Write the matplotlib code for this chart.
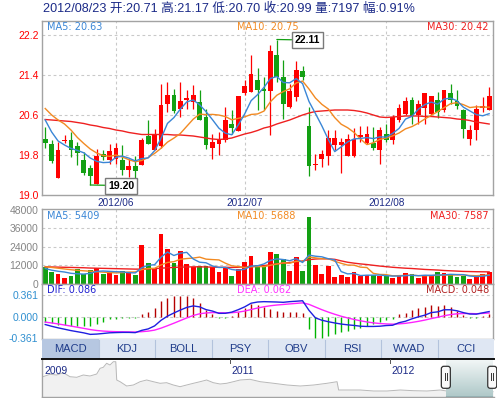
import numpy as np
import pandas as pd
import matplotlib
matplotlib.use("Agg")
import matplotlib.pyplot as plt
from matplotlib.patches import Rectangle, FancyBboxPatch

# ---------------- data ----------------
header = "2012/08/23 开:20.71 高:21.17 低:20.70 收:20.99 量:7197 幅:0.91%"

opens = [20.12, 20.03, 19.35, 20.09, 20.11, 19.99, 19.71, 19.53, 19.23, 19.83,
         19.70, 19.72, 19.70, 19.51, 19.58, 19.60, 20.18, 19.90, 19.98, 20.83,
         21.00, 20.73, 20.90, 20.87, 20.87, 20.55, 19.95, 20.02, 20.10, 20.43,
         20.28, 21.05, 21.07, 21.31, 21.12, 21.09, 21.80, 21.37, 20.77, 20.97,
         21.48, 20.38, 19.60, 19.72, 19.78, 20.01, 20.00, 19.79, 19.79, 20.17,
         20.05, 20.05, 19.90, 20.23, 20.10, 20.50, 20.63, 20.90, 20.60, 20.75,
         20.63, 20.90, 20.71, 21.05, 20.89, 20.69, 20.13, 20.30, 20.75, 20.71]
highs = [20.37, 20.10, 20.07, 20.20, 20.27, 20.07, 19.87, 19.60, 19.93, 19.90,
         20.03, 20.05, 20.00, 19.73, 19.78, 20.15, 20.50, 20.33, 21.22, 21.27,
         21.13, 21.27, 21.10, 21.20, 21.10, 20.73, 20.23, 20.27, 20.77, 20.70,
         20.98, 21.30, 21.80, 21.55, 21.37, 22.00, 22.11, 21.70, 21.23, 21.69,
         21.58, 20.77, 19.83, 19.90, 20.30, 20.30, 20.15, 20.23, 20.35, 20.38,
         20.38, 20.37, 20.37, 20.43, 20.60, 20.83, 20.97, 20.97, 20.91, 21.03,
         20.98, 21.07, 21.10, 21.22, 21.10, 20.73, 20.40, 20.80, 20.97, 21.17]
lows = [19.95, 19.65, 19.35, 20.05, 19.77, 19.60, 19.40, 19.20, 19.23, 19.71,
        19.63, 19.62, 19.40, 19.37, 19.35, 19.60, 20.02, 19.90, 19.95, 20.67,
        20.65, 20.57, 20.73, 20.73, 20.50, 19.93, 19.72, 19.81, 20.07, 20.23,
        20.28, 21.00, 21.07, 20.71, 20.70, 20.20, 21.27, 20.52, 20.75, 20.88,
        21.30, 19.38, 19.51, 19.57, 19.60, 19.90, 19.45, 19.79, 19.77, 20.07,
        20.02, 19.90, 19.63, 20.07, 20.03, 20.47, 20.60, 20.43, 20.43, 20.43,
        20.60, 20.55, 20.67, 20.83, 20.73, 20.15, 20.00, 20.10, 20.67, 20.70]
closes = [20.05, 19.69, 19.91, 20.11, 19.90, 19.85, 19.45, 19.39, 19.78, 19.77,
          19.88, 19.95, 19.51, 19.58, 19.49, 20.11, 20.02, 20.23, 20.80, 21.00,
          20.69, 20.87, 20.95, 21.00, 20.51, 20.00, 20.07, 20.10, 20.50, 20.35,
          20.98, 21.17, 21.43, 21.10, 21.08, 21.87, 21.37, 20.83, 21.07, 21.50,
          21.37, 19.58, 19.63, 19.83, 20.15, 20.15, 20.05, 20.13, 20.13, 20.20,
          20.23, 19.95, 20.30, 20.11, 20.57, 20.73, 20.88, 20.58, 20.82, 21.03,
          20.98, 20.67, 21.10, 20.90, 20.78, 20.33, 20.30, 20.73, 20.78, 20.99]
volumes = [10900, 7600, 6100, 3900, 4800, 9400, 6500, 8700, 10200, 6100,
           8200, 5400, 8000, 7600, 5400, 25000, 13500, 9800, 32300, 22300,
           13600, 21100, 12500, 10700, 11700, 11700, 10700, 7600, 11000, 4800,
           9200, 14100, 17900, 11900, 10900, 20700, 19100, 15700, 8100, 17600,
           8100, 43400, 12000, 6100, 11300, 4200, 5400, 4400, 7400, 4600,
           5400, 5400, 5000, 5000, 3500, 5400, 6800, 6200, 3700, 4900,
           5200, 7800, 6600, 5600, 4000, 5000, 3200, 5000, 6500, 7197]

# moving-average values before enough history is visible
ma5_head = [20.50, 20.26, 20.08, 20.00]
ma10_head = [20.73, 20.60, 20.50, 20.42, 20.30, 20.15, 20.03, 19.92, 19.84]
ma30 = [20.51, 20.50, 20.49, 20.48, 20.47, 20.45, 20.43, 20.40, 20.38, 20.35,
        20.33, 20.30, 20.28, 20.25, 20.23, 20.21, 20.21, 20.21, 20.21, 20.21,
        20.20, 20.20, 20.19, 20.18, 20.16, 20.14, 20.12, 20.11, 20.12, 20.14,
        20.18, 20.22, 20.25, 20.29, 20.34, 20.37, 20.42, 20.46, 20.50, 20.55,
        20.60, 20.64, 20.67, 20.68, 20.69, 20.70, 20.70, 20.70, 20.69, 20.67,
        20.64, 20.60, 20.56, 20.55, 20.56, 20.57, 20.58, 20.58, 20.58, 20.57,
        20.57, 20.56, 20.55, 20.54, 20.52, 20.51, 20.49, 20.46, 20.44, 20.42]
vol_ma5_head = [9800, 8700, 8000, 7500]
vol_ma10_head = [10900, 10500, 10000, 9500, 9000, 8600, 8300, 8000, 7700]
vol_ma30 = [10900, 10800, 10700, 10600, 10500, 10400, 10300, 10100, 10000, 9900,
            9800, 9700, 9600, 9500, 9400, 9400, 9500, 9700, 10000, 10300,
            10500, 10700, 10800, 10900, 10900, 10800, 10700, 10600, 10600, 10500,
            10600, 10800, 11000, 11300, 11700, 12300, 12800, 13300, 13700, 14200,
            14700, 15600, 16000, 16200, 16100, 15800, 14800, 13900, 13300, 12800,
            12400, 11900, 11400, 11000, 10600, 10300, 10000, 9800, 9500, 9200,
            9000, 8800, 8500, 8300, 8100, 7900, 7800, 7700, 7650, 7587]

dif = [-0.130, -0.159, -0.185, -0.208, -0.231, -0.250, -0.269, -0.294, -0.289, -0.279,
       -0.268, -0.264, -0.261, -0.261, -0.265, -0.227, -0.203, -0.153, -0.060, 0.010,
       0.062, 0.111, 0.155, 0.180, 0.164, 0.118, 0.094, 0.056, 0.057, 0.077,
       0.117, 0.164, 0.225, 0.245, 0.251, 0.248, 0.245, 0.240, 0.251, 0.258,
       0.266, 0.106, -0.019, -0.058, -0.083, -0.104, -0.122, -0.135, -0.145, -0.158,
       -0.162, -0.162, -0.158, -0.147, -0.142, -0.099, -0.075, -0.035, -0.002, 0.026,
       0.069, 0.081, 0.116, 0.116, 0.099, 0.068, 0.045, 0.043, 0.065, 0.086]
dea = [-0.090, -0.104, -0.120, -0.138, -0.156, -0.175, -0.194, -0.214, -0.229, -0.239,
       -0.245, -0.249, -0.251, -0.253, -0.255, -0.249, -0.240, -0.223, -0.190, -0.150,
       -0.108, -0.064, -0.020, 0.020, 0.049, 0.063, 0.069, 0.066, 0.064, 0.067,
       0.077, 0.094, 0.120, 0.145, 0.166, 0.183, 0.195, 0.204, 0.213, 0.222,
       0.231, 0.206, 0.161, 0.117, 0.077, 0.041, 0.008, -0.020, -0.045, -0.068,
       -0.087, -0.102, -0.113, -0.120, -0.124, -0.119, -0.110, -0.095, -0.077, -0.056,
       -0.031, -0.009, 0.016, 0.036, 0.049, 0.053, 0.053, 0.050, 0.055, 0.062]

price_legend = ["MA5: 20.63", "MA10: 20.75", "MA30: 20.42"]
vol_legend = ["MA5: 5409", "MA10: 5688", "MA30: 7587"]
macd_legend = ["DIF: 0.086", "DEA: 0.062", "MACD: 0.048"]

month_idx = [11, 31, 53]
month_labels = ["2012/06", "2012/07", "2012/08"]
price_ticks = [19.0, 19.8, 20.6, 21.4, 22.2]
price_tick_labels = ["19.0", "19.8", "20.6", "21.4", "22.2"]
vol_ticks = [0, 12000, 24000, 36000, 48000]
vol_tick_labels = ["0", "12000", "24000", "36000", "48000"]
macd_ticks = [-0.361, 0.0, 0.361]
macd_tick_labels = ["-0.361", "0.000", "0.361"]

tabs = ["MACD", "KDJ", "BOLL", "PSY", "OBV", "RSI", "WVAD", "CCI"]
active_tab = "MACD"

nav_years = [2009.831, 2009.875, 2009.917, 2009.958, 2010.000, 2010.042, 2010.083,
             2010.125, 2010.167, 2010.188, 2010.208, 2010.229, 2010.250, 2010.271,
             2010.286, 2010.292, 2010.313, 2010.354, 2010.396, 2010.438, 2010.479,
             2010.521, 2010.563, 2010.604, 2010.646, 2010.688, 2010.729, 2010.771,
             2010.813, 2010.854, 2010.896, 2010.938, 2010.979, 2011.021, 2011.063,
             2011.125, 2011.189, 2011.273, 2011.356, 2011.439, 2011.523, 2011.606,
             2011.669, 2011.679, 2011.731, 2011.814, 2011.898, 2011.981, 2012.064,
             2012.148, 2012.231, 2012.314, 2012.375, 2012.500, 2012.644]
nav_close = [28.30, 29.50, 29.15, 30.30, 28.30, 28.00, 29.15,
             28.65, 29.65, 32.50, 33.00, 35.00, 34.15, 35.80,
             35.80, 26.65, 25.80, 23.65, 24.15, 25.80, 26.65,
             25.80, 25.00, 25.30, 24.15, 23.30, 24.15, 25.00,
             25.80, 26.65, 25.30, 24.65, 25.00, 25.80, 26.65,
             27.00, 25.80, 25.00, 24.15, 23.65, 24.15, 25.00,
             25.80, 21.65, 21.65, 21.65, 21.15, 21.15, 21.65,
             21.30, 21.15, 21.65, 20.90, 20.80, 20.80]
nav_label_years = [2009.83, 2011.0, 2012.0]
nav_labels = ["2009", "2011", "2012"]
sel_range = [2012.349, 2012.639]

max_idx, max_label = 36, "22.11"
min_idx, min_label = 7, "19.20"

# ---------------- derived series ----------------
o = np.array(opens); h = np.array(highs); l = np.array(lows); c = np.array(closes)
v = np.array(volumes, dtype=float)
n = len(c)
x = np.arange(n)

ma5 = pd.Series(c).rolling(5).mean().to_numpy(); ma5[:4] = ma5_head
ma10 = pd.Series(c).rolling(10).mean().to_numpy(); ma10[:9] = ma10_head
vma5 = pd.Series(v).rolling(5).mean().to_numpy(); vma5[:4] = vol_ma5_head
vma10 = pd.Series(v).rolling(10).mean().to_numpy(); vma10[:9] = vol_ma10_head
hist = 2 * (np.array(dif) - np.array(dea))

# ---------------- style ----------------
plt.rcParams['font.family'] = ['Liberation Sans', 'Noto Sans CJK SC', 'DejaVu Sans']
RED = '#ff0000'
GREEN = '#13a013'
C_MA5 = '#3a86d6'
C_MA10 = '#f28a22'
C_MA30 = '#ef2020'
GRID = '#c9c9c9'
FRAME = '#a3a3a3'
NAVY = '#1c2a86'

W, H = 497, 398
fig = plt.figure(figsize=(W / 100, H / 100), dpi=100)


def rect(x0, y0, x1, y1):
    return [x0 / W, 1 - y1 / H, (x1 - x0) / W, (y1 - y0) / H]


ax_p = fig.add_axes(rect(42, 21, 493, 195))
ax_v = fig.add_axes(rect(42, 209, 493, 283.5))
ax_m = fig.add_axes(rect(42, 284, 493, 339))
ax_t = fig.add_axes(rect(42, 339, 494, 359))
ax_n = fig.add_axes(rect(42, 359, 494, 397))

XL = (-0.5, n - 0.4)
up = c >= o
cols = np.where(up, RED, GREEN)
bw = 0.74


def frame(ax):
    for s in ax.spines.values():
        s.set_color(FRAME)
        s.set_linewidth(1.0)
    ax.tick_params(axis='both', length=0)
    ax.set_xticks([])


# ---- price panel ----
ax = ax_p
frame(ax)
ax.set_xlim(*XL)
ax.set_ylim(19.0, 22.48)
for yv in price_ticks[1:]:
    ax.axhline(yv, color=GRID, lw=0.8, ls=(0, (2.5, 2.5)), zorder=0)
for mi in month_idx:
    ax.axvline(mi, color=GRID, lw=0.8, ls=(0, (2.5, 2.5)), zorder=0)
ax.vlines(x, l, h, colors=cols, lw=0.9, zorder=2)
body_lo = np.minimum(o, c)
body_h = np.maximum(np.abs(c - o), 0.02)
ax.bar(x, body_h, bottom=body_lo, width=bw, color=cols, linewidth=0, zorder=3)
ax.plot(x, ma30, color=C_MA30, lw=1.0, zorder=4)
ax.plot(x, ma10, color=C_MA10, lw=1.0, zorder=4)
ax.plot(x, ma5, color=C_MA5, lw=1.0, zorder=4)
ax.set_yticks(price_ticks)
ax.set_yticklabels(price_tick_labels, color='#ff0000', fontsize=7.5)
ax.tick_params(axis='y', pad=2.5)
for mi, lab in zip(month_idx, month_labels):
    ax.text(mi, -0.047, lab, transform=ax.get_xaxis_transform(), ha='center', va='center',
            fontsize=7.2, color=NAVY, clip_on=False)
fam = ['DejaVu Sans']
ax.text(0.011, 0.965, price_legend[0], transform=ax.transAxes, color=C_MA5, fontsize=7,
        va='center', ha='left', family=fam)
ax.text(0.432, 0.965, price_legend[1], transform=ax.transAxes, color=C_MA10, fontsize=7,
        va='center', ha='left', family=fam)
ax.text(0.991, 0.965, price_legend[2], transform=ax.transAxes, color=C_MA30, fontsize=7,
        va='center', ha='right', family=fam)

# high / low markers
for idx, lab, val in [(max_idx, max_label, h[max_idx]), (min_idx, min_label, l[min_idx])]:
    ax.annotate(lab, xy=(idx, val), xytext=(22.3, -0.4), textcoords='offset points',
                ha='center', va='center', fontsize=7.6, fontweight='bold', color='black',
                bbox=dict(boxstyle='square,pad=0.28', fc='white', ec='#7a7a7a', lw=1.0),
                arrowprops=dict(arrowstyle='-', color=cols[idx], lw=0.9,
                                shrinkA=0, shrinkB=0),
                zorder=6, annotation_clip=False)

# ---- volume panel ----
ax = ax_v
frame(ax)
ax.set_xlim(*XL)
ax.set_ylim(0, 48700)
for yv in vol_ticks[1:4]:
    ax.axhline(yv, color=GRID, lw=0.8, ls=(0, (2.5, 2.5)), zorder=0)
for mi in month_idx:
    ax.axvline(mi, color=GRID, lw=0.8, ls=(0, (2.5, 2.5)), zorder=0)
ax.bar(x, v, width=bw, color=cols, linewidth=0, zorder=2)
ax.plot(x, vol_ma30, color=C_MA30, lw=1.0, zorder=4)
ax.plot(x, vma10, color=C_MA10, lw=1.0, zorder=4)
ax.plot(x, vma5, color=C_MA5, lw=1.0, zorder=4)
ax.set_yticks(vol_ticks)
ax.set_yticklabels(vol_tick_labels, color='#858585', fontsize=7.5)
ax.tick_params(axis='y', pad=2.5)
ax.text(0.011, 0.905, vol_legend[0], transform=ax.transAxes, color=C_MA5, fontsize=7,
        va='center', ha='left', family=fam)
ax.text(0.432, 0.905, vol_legend[1], transform=ax.transAxes, color=C_MA10, fontsize=7,
        va='center', ha='left', family=fam)
ax.text(0.991, 0.905, vol_legend[2], transform=ax.transAxes, color=C_MA30, fontsize=7,
        va='center', ha='right', family=fam)

# ---- MACD panel ----
ax = ax_m
frame(ax)
ax.set_xlim(*XL)
ax.set_ylim(-0.371, 0.545)
ax.axhline(0.361, color=GRID, lw=0.8, ls=(0, (2.5, 2.5)), zorder=0)
ax.axhline(0.0, color=GRID, lw=0.8, ls=(0, (2.5, 2.5)), zorder=0)
hcols = np.where(hist >= 0, '#b50000', '#00b400')
ax.vlines(x, 0, hist, colors=hcols, lw=1.0, zorder=2)
ax.plot(x, dea, color='#ff22ff', lw=1.0, zorder=3)
ax.plot(x, dif, color='#1f1fe0', lw=1.0, zorder=4)
ax.set_yticks(macd_ticks)
ax.set_yticklabels(macd_tick_labels, color='#2f8fd0', fontsize=7.5)
ax.tick_params(axis='y', pad=2.5)
ax.text(0.011, 0.885, macd_legend[0], transform=ax.transAxes, color='#2020d0', fontsize=7,
        va='center', ha='left', family=fam)
ax.text(0.432, 0.885, macd_legend[1], transform=ax.transAxes, color='#ff33ff', fontsize=7,
        va='center', ha='left', family=fam)
ax.text(0.991, 0.885, macd_legend[2], transform=ax.transAxes, color='#b22222', fontsize=7,
        va='center', ha='right', family=fam)

# ---- tabs ----
ax = ax_t
ax.set_xlim(0, len(tabs))
ax.set_ylim(0, 1)
ax.axis('off')
for i, t in enumerate(tabs):
    fc = '#b6c7e1' if t == active_tab else '#dfe7f3'
    ax.add_patch(Rectangle((i, 0), 1, 1, fc=fc, ec='none'))
    if i > 0:
        ax.plot([i, i], [0.05, 0.95], color='#b3c3dc', lw=0.8)
    ax.text(i + 0.5, 0.5, t, ha='center', va='center', fontsize=8, color='#1f3c8a')

# ---- navigator ----
ax = ax_n
ax.set_xlim(2009.825, 2012.65)
ax.set_ylim(18.15, 37.15)
ax.set_xticks([]); ax.set_yticks([])
for k, s in ax.spines.items():
    s.set_color(FRAME); s.set_linewidth(1.0)
ax.spines['right'].set_visible(False)
ax.spines['top'].set_color('#111111'); ax.spines['top'].set_linewidth(1.4)
ax.fill_between(nav_years, nav_close, 18.15, color='#f1f1f1', lw=0, zorder=1)
ax.plot(nav_years, nav_close, color='#b8b8b8', lw=0.7, zorder=2)
for yr, lab in zip(nav_label_years, nav_labels):
    if yr > 2010.5:
        ax.plot([yr, yr], [37.15, 35.0], color='#555555', lw=0.7, zorder=3)
    ax.text(yr + 0.012, 31.0, lab, ha='left', va='center', fontsize=7.5, color=NAVY, zorder=3)
# selected window with gradient
grad = np.linspace(0, 1, 64).reshape(-1, 1)
from matplotlib.colors import LinearSegmentedColormap
cmap = LinearSegmentedColormap.from_list('sel', ['#f3f7f7', '#aec8c8'])
ax.imshow(grad, extent=[sel_range[0], sel_range[1], 18.15, 37.15], aspect='auto',
          cmap=cmap, origin='upper', zorder=2)
ax.plot([sel_range[0], sel_range[1]], [18.4, 18.4], color='#3d6f7a', lw=1.0, zorder=3)
ax.set_xlim(2009.825, 2012.65)
ax.set_ylim(18.15, 37.15)
px_x = (2012.65 - 2009.825) / 452.0
px_y = (37.15 - 18.15) / 38.0
for cx in sel_range:
    wbox, hbox = 9 * px_x, 22 * px_y
    hb = FancyBboxPatch((cx - wbox / 2, 22.5), wbox, hbox,
                        boxstyle='round,pad=0,rounding_size=%f' % (2.5 * px_x),
                        mutation_aspect=px_y / px_x, fc='#fafafa', ec='#333333', lw=0.9,
                        zorder=5, clip_on=False)
    ax.add_patch(hb)
    for dx in (-1.2, 1.2):
        ax.plot([cx + dx * px_x, cx + dx * px_x], [26.5, 30.0], color='#333333', lw=0.7,
                zorder=6, clip_on=False)

# ---- header ----
fig.text(43 / W, 1 - 8.5 / H, header, fontsize=9.1, color='#1b2a88', ha='left', va='center')

fig.savefig('out.png', dpi=100)
